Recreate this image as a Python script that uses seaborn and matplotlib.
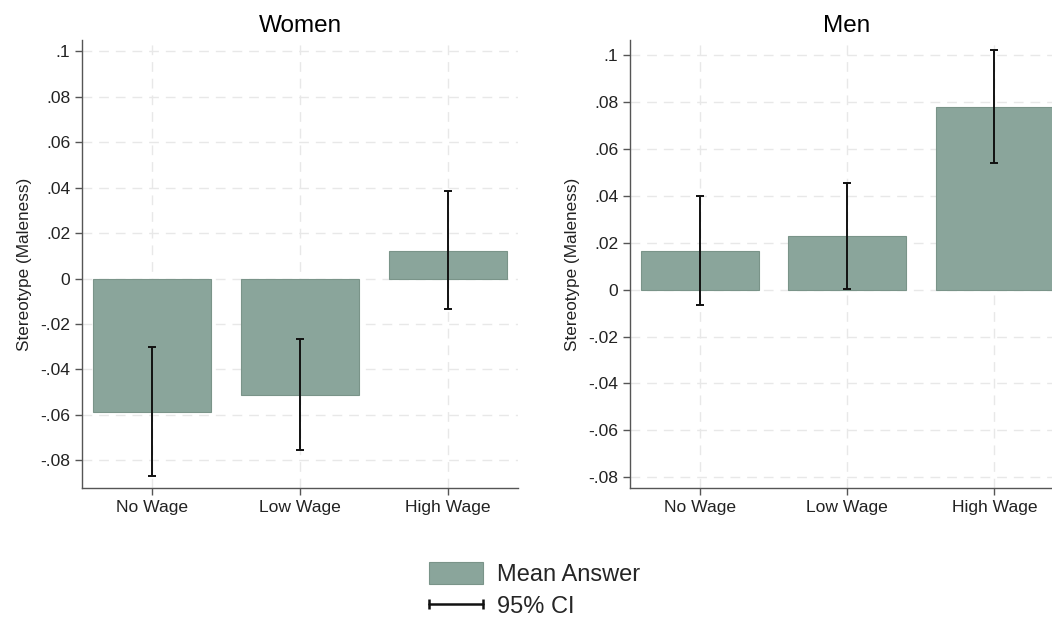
import matplotlib
matplotlib.use("Agg")
import matplotlib.pyplot as plt
import seaborn as sns
import pandas as pd
from matplotlib.patches import Patch
from matplotlib.lines import Line2D
from matplotlib.legend_handler import HandlerLine2D

categories = ["No Wage", "Low Wage", "High Wage"]

women_mean = [-0.0585, -0.0510, 0.0123]
women_lo = [-0.0870, -0.0752, -0.0133]
women_hi = [-0.0303, -0.0268, 0.0385]

men_mean = [0.0163, 0.0227, 0.0778]
men_lo = [-0.0065, 0.0002, 0.0538]
men_hi = [0.0400, 0.0456, 0.1020]

y_ticks = [0.1, 0.08, 0.06, 0.04, 0.02, 0, -0.02, -0.04, -0.06, -0.08]
y_tick_labels = [".1", ".08", ".06", ".04", ".02", "0", "-.02", "-.04", "-.06", "-.08"]

bar_color = "#8aa59b"
edge_color = "#7a9489"

sns.set_theme(style="white")
plt.rcParams["font.family"] = ["Liberation Sans", "DejaVu Sans"]

fig = plt.figure(figsize=(10.52, 6.18), dpi=100)
ax_w = fig.add_axes([0.078, 0.21, 0.4145, 0.725])
ax_m = fig.add_axes([0.599, 0.21, 0.4125, 0.725])

panels = [
    (ax_w, "Women", women_mean, women_lo, women_hi, (-0.0922, 0.1048)),
    (ax_m, "Men", men_mean, men_lo, men_hi, (-0.0847, 0.1064)),
]

for ax, title, mean, lo, hi, ylim in panels:
    df = pd.DataFrame({"group": categories, "mean": mean})
    sns.barplot(data=df, x="group", y="mean", order=categories, errorbar=None,
                color=bar_color, saturation=1, width=0.8,
                edgecolor=edge_color, linewidth=0.8, ax=ax, zorder=2)
    xs = range(len(categories))
    ax.errorbar(xs, mean,
                yerr=[[m - l for m, l in zip(mean, lo)], [h - m for m, h in zip(mean, hi)]],
                fmt="none", ecolor="#111111", elinewidth=1.4, capsize=3, capthick=1.4,
                zorder=4)
    ax.set_xlim(-0.473, 2.473)
    ax.set_ylim(*ylim)
    ax.set_yticks(y_ticks)
    ax.set_yticklabels(y_tick_labels)
    ax.set_xlabel("")
    ax.set_ylabel("Stereotype (Maleness)", fontsize=12.3, color="#222222", labelpad=6)
    ax.set_title(title, fontsize=17.5, color="black", pad=6)
    ax.grid(True, axis="both", color="#e8e8e8", linestyle=(0, (7, 5)), linewidth=1.0, zorder=0)
    ax.set_axisbelow(True)
    for side in ["top", "right"]:
        ax.spines[side].set_visible(False)
    for side in ["left", "bottom"]:
        ax.spines[side].set_color("#555555")
        ax.spines[side].set_linewidth(1.0)
    ax.tick_params(axis="both", which="major", direction="out", length=5, width=1,
                   color="#555555", labelsize=12.6, labelcolor="#222222", left=True, bottom=True)

ci_handle = Line2D([0, 1], [0, 0], color="#111111", linewidth=1.8, marker="|", markersize=7,
                   markeredgewidth=1.8)
handles = [
    Patch(facecolor=bar_color, edgecolor=edge_color, linewidth=0.8),
    ci_handle,
]
fig.legend(handles, ["Mean Answer", "95% CI"], loc="center", bbox_to_anchor=(0.508, 0.045),
           frameon=False, fontsize=17, numpoints=2, handlelength=2.3, handleheight=1.0,
           handletextpad=0.6, labelspacing=0.35,
           handler_map={ci_handle: HandlerLine2D(marker_pad=0)})

fig.savefig("out.png", dpi=100)
